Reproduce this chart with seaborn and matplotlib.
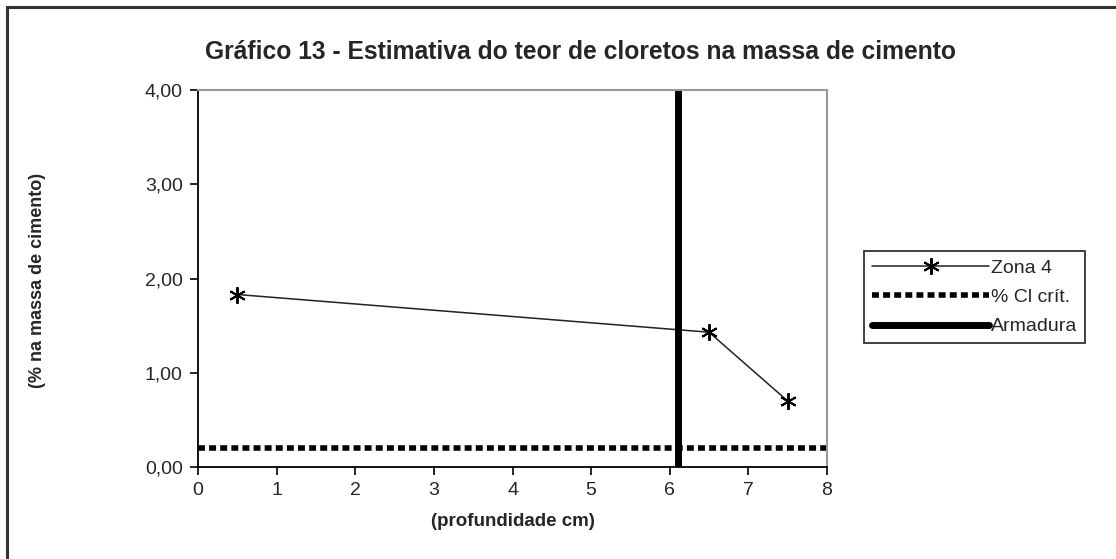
import matplotlib
matplotlib.use("Agg")
import matplotlib.pyplot as plt
from matplotlib.patches import Rectangle
from matplotlib.ticker import FuncFormatter
import seaborn as sns
import pandas as pd

# Chloride content profile (Zona 4)
profundidade = [0.5, 6.5, 7.5]
teor_cloretos = [1.83, 1.43, 0.70]

# Critical chloride content and rebar depth
cl_critico = 0.20
armadura_pos = 6.1

x_ticks = [0, 1, 2, 3, 4, 5, 6, 7, 8]
y_ticks = [0.0, 1.0, 2.0, 3.0, 4.0]

sns.set_theme(style="white")
plt.rcParams["font.family"] = ["Liberation Sans", "DejaVu Sans"]

W, H = 1116, 559
fig = plt.figure(figsize=(W / 100, H / 100), dpi=100)
ax = fig.add_axes([198 / W, 1 - 467 / H, (827 - 198) / W, (467 - 90) / H])

df = pd.DataFrame({"x": profundidade, "y": teor_cloretos})
sns.lineplot(data=df, x="x", y="y", ax=ax, color="#222222", linewidth=1.1,
             marker=(6, 2, 0), markersize=12, markeredgewidth=1.4,
             markeredgecolor="black", label="Zona 4")

ax.plot([0, 8], [cl_critico, cl_critico], color="black", linewidth=4,
        dashes=(1.25, 0.75), dash_capstyle="butt", label="% Cl crít.")
ax.plot([armadura_pos, armadura_pos], [0, 4], color="black", linewidth=5,
        solid_capstyle="round", label="Armadura")

ax.set_xlim(0, 8)
ax.set_ylim(0, 4)
ax.set_xticks(x_ticks)
ax.set_yticks(y_ticks)
ax.yaxis.set_major_formatter(FuncFormatter(lambda v, p: f"{v:.2f}".replace(".", ",")))
ax.tick_params(axis="both", which="major", labelsize=14, length=6, width=1.2,
               color="black", direction="out", bottom=True, left=True, pad=5)

for side in ("left", "bottom"):
    ax.spines[side].set_color("black")
    ax.spines[side].set_linewidth(1.3)
for side in ("top", "right"):
    ax.spines[side].set_color("#999999")
    ax.spines[side].set_linewidth(1.5)

ax.set_xlabel("(profundidade cm)", fontsize=13.5, fontweight="bold", labelpad=10)
ax.set_ylabel("")
fig.text(38 / W, 1 - 280 / H, "(% na massa de cimento)", fontsize=13,
         fontweight="bold", rotation=90, ha="center", va="center")

fig.text(581 / W, 1 - 52 / H,
         "Gráfico 13 - Estimativa do teor de cloretos na massa de cimento",
         fontsize=17.7, fontweight="bold", ha="center", va="center")

leg = ax.legend(loc="upper left", bbox_to_anchor=(864 / W, 1 - 251 / H),
                bbox_transform=fig.transFigure, frameon=True, fancybox=False,
                fontsize=14, handlelength=6.0, handletextpad=0.1, borderpad=0.42,
                labelspacing=0.6, borderaxespad=0)
leg.get_frame().set_edgecolor("black")
leg.get_frame().set_linewidth(1.3)

# Outer chart frame
fig.patches.append(Rectangle((7 / W, -0.1), 1.2, 1 - 7 / H + 0.1,
                             transform=fig.transFigure, fill=False,
                             edgecolor="#333333", linewidth=2.2))

fig.savefig("out.png", dpi=100)
